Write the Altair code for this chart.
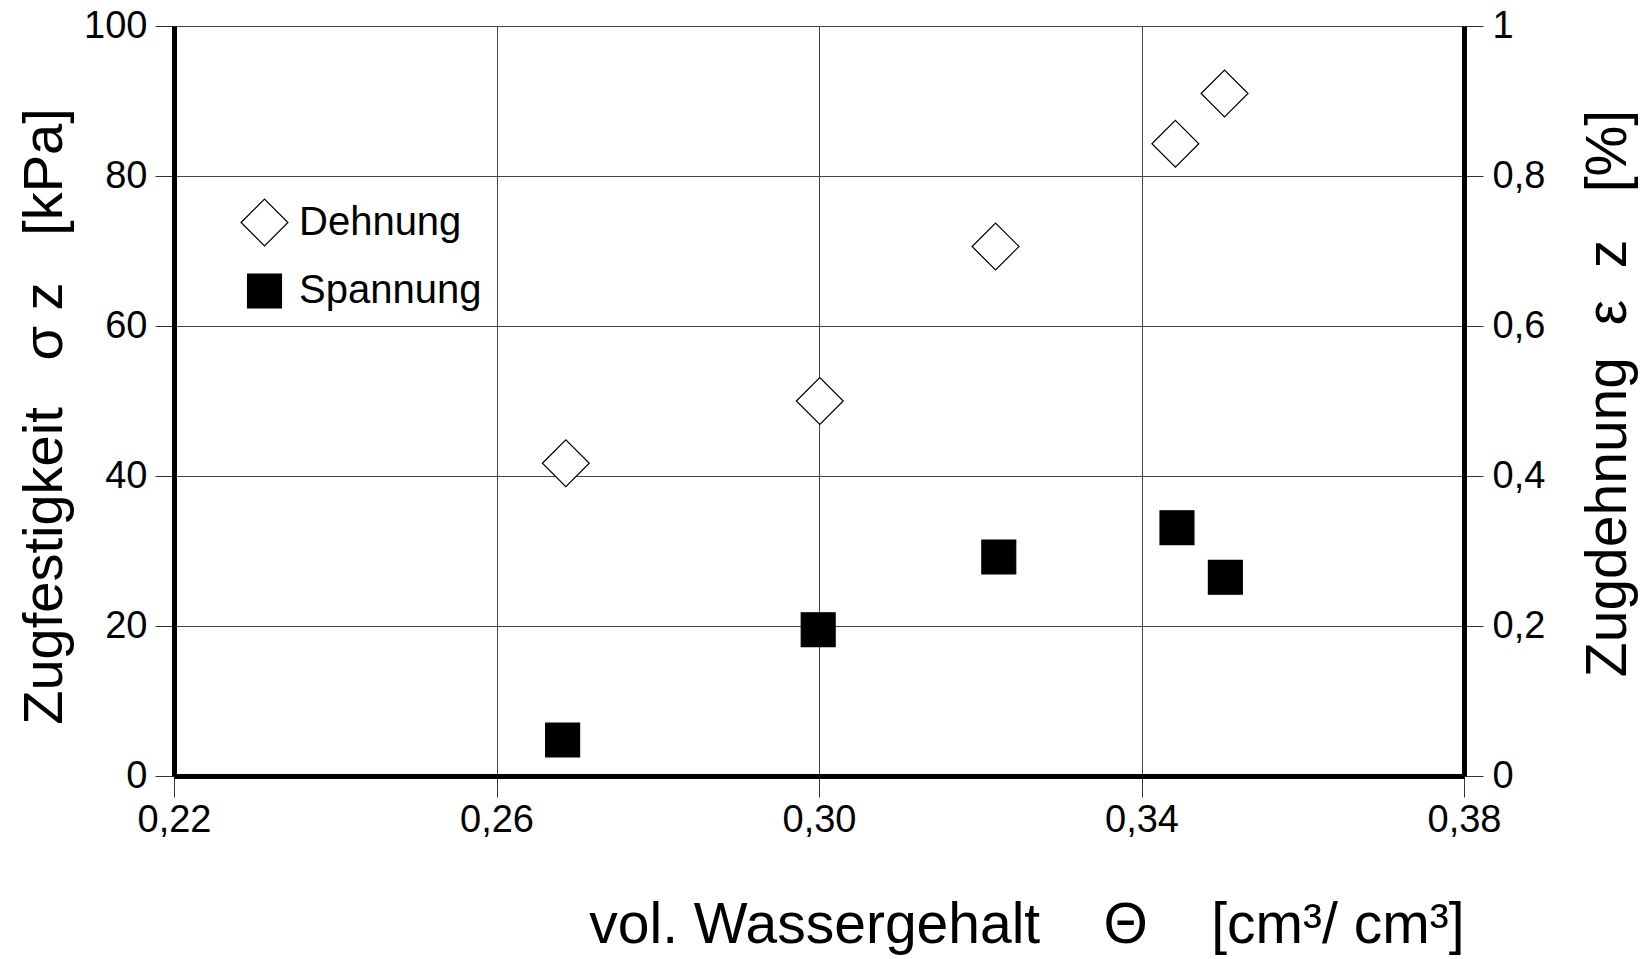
import altair as alt
import pandas as pd

# values
wassergehalt_dehnung = [0.2686, 0.3001, 0.3219, 0.3442, 0.3503]
dehnung = [0.417, 0.500, 0.706, 0.843, 0.910]          # Zugdehnung [%], right axis
wassergehalt_spannung = [0.2682, 0.2999, 0.3223, 0.3444, 0.3504]
spannung = [4.8, 19.5, 29.2, 33.1, 26.5]                # Zugfestigkeit [kPa], left axis

x_ticks = [0.22, 0.26, 0.30, 0.34, 0.38]
y_left_ticks = [0, 20, 40, 60, 80, 100]
y_right_ticks = [0, 0.2, 0.4, 0.6, 0.8, 1.0]
reihen = ["Dehnung", "Spannung"]

df_s = pd.DataFrame({"theta": wassergehalt_spannung, "wert": spannung, "Reihe": "Spannung"})
df_d = pd.DataFrame({"theta": wassergehalt_dehnung, "wert": dehnung, "Reihe": "Dehnung"})

FONT = "Liberation Sans"
NB = "\u00a0"

x_enc = alt.X(
    "theta:Q",
    scale=alt.Scale(domain=[0.22, 0.38], nice=False, zero=False),
    axis=alt.Axis(
        values=x_ticks,
        labelExpr="replace(format(datum.value, '.2f'), '.', ',')",
        labelFlush=False,
        title="vol. Wassergehalt" + NB * 4 + "Θ" + NB * 4 + "[cm³/ cm³]",
        titleAnchor="end",
        titleFontSize=57,
        titlePadding=58,
        tickSize=21,
        labelPadding=4,
        domainWidth=5,
        grid=True,
    ),
)

shape_enc = alt.Shape("Reihe:N", scale=alt.Scale(domain=reihen, range=["diamond", "square"]),
                      legend=alt.Legend(title=None))
fill_enc = alt.Fill("Reihe:N", scale=alt.Scale(domain=reihen, range=["white", "black"]),
                    legend=alt.Legend(title=None))
stroke_enc = alt.Stroke("Reihe:N", scale=alt.Scale(domain=reihen, range=["black", "black"]),
                        legend=alt.Legend(title=None))
size_enc = alt.Size("Reihe:N", scale=alt.Scale(domain=reihen, range=[2200, 1150]),
                    legend=alt.Legend(title=None))

spann = alt.Chart(df_s).mark_point(filled=True, strokeWidth=1.2, opacity=1).encode(
    x=x_enc,
    y=alt.Y(
        "wert:Q",
        scale=alt.Scale(domain=[0, 100], nice=False),
        axis=alt.Axis(
            orient="left",
            values=y_left_ticks,
            title="Zugfestigkeit" + NB * 3 + "σ" + NB + "z" + NB * 3 + "[kPa]",
            titleFontSize=56,
            titlePadding=10,
            titleY=390,
            tickSize=19,
            labelPadding=8,
            domainWidth=5,
            grid=True,
        ),
    ),
    shape=shape_enc,
    fill=fill_enc,
    stroke=stroke_enc,
    size=size_enc,
)

dehn = alt.Chart(df_d).mark_point(filled=True, strokeWidth=1.2, opacity=1).encode(
    x=x_enc,
    y=alt.Y(
        "wert:Q",
        scale=alt.Scale(domain=[0, 1], nice=False),
        axis=alt.Axis(
            orient="right",
            values=y_right_ticks,
            labelExpr="datum.value == 0 ? '0' : datum.value == 1 ? '1' : replace(format(datum.value, '.1f'), '.', ',')",
            title="Zugdehnung" + NB * 2 + "ε" + NB * 2 + "z" + NB * 3 + "[%]",
            titleFontSize=57,
            titleAngle=270,
            titleBaseline="top",
            titlePadding=36,
            titleY=367,
            tickSize=19,
            labelPadding=9,
            domainWidth=5,
            grid=False,
        ),
    ),
    shape=shape_enc,
    fill=fill_enc,
    stroke=stroke_enc,
    size=size_enc,
)

chart = (
    alt.layer(spann, dehn)
    .resolve_scale(y="independent")
    .properties(
        width=1290,
        height=750,
        autosize=alt.AutoSizeParams(type="none"),
        padding={"left": 174, "top": 26, "right": 184, "bottom": 183},
        background="white",
    )
    .configure_view(stroke="#333333", strokeWidth=1)
    .configure_axis(
        labelFont=FONT,
        labelFontSize=38,
        labelColor="black",
        titleFont=FONT,
        titleFontWeight="normal",
        titleColor="black",
        domainColor="black",
        tickColor="#333333",
        tickWidth=1,
        gridColor="#444444",
        gridWidth=1,
        gridOpacity=1,
        zindex=1,
    )
    .configure_legend(
        orient="none",
        legendX=66,
        legendY=172,
        labelFont=FONT,
        labelFontSize=40,
        labelColor="black",
        labelLimit=0,
        symbolStrokeWidth=1.2,
        symbolOpacity=1,
        labelOffset=10,
        rowPadding=22,
    )
)

chart.save("out.html", embed_options={"renderer": "svg", "actions": False})
